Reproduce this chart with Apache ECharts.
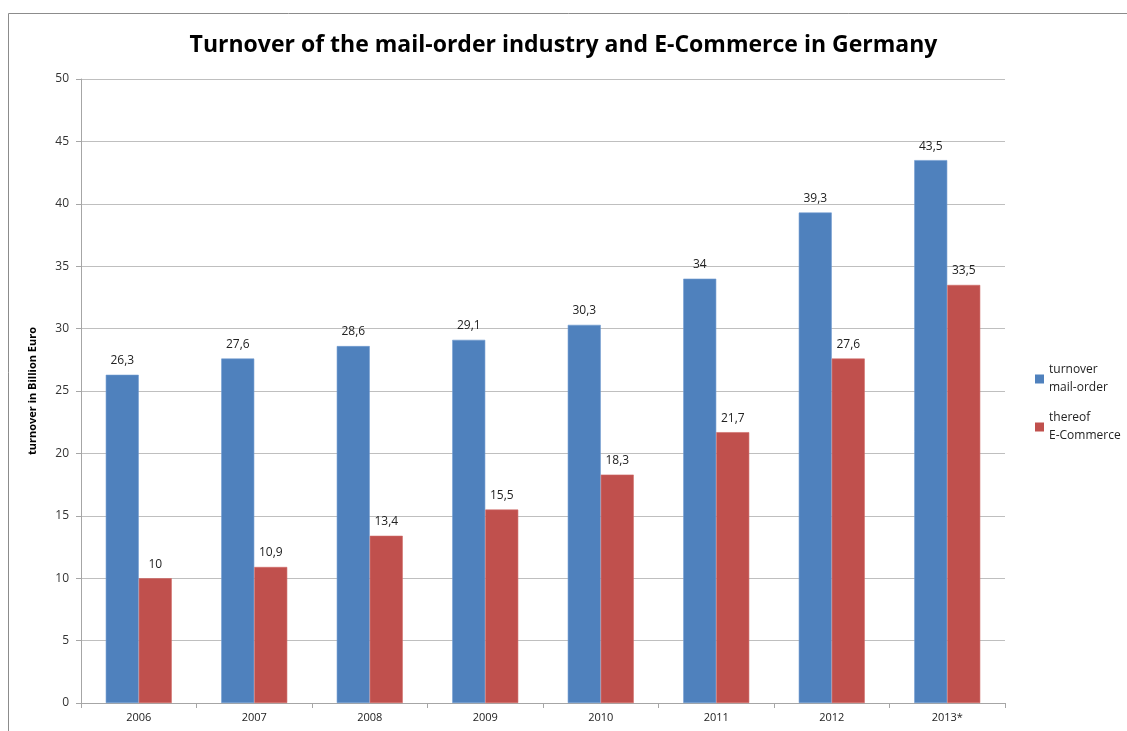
<!DOCTYPE html>
<html>
<head>
<meta charset="utf-8">
<script src="https://cdn.jsdelivr.net/npm/echarts@6/dist/echarts.min.js"></script>
<style>
html,body{margin:0;padding:0;background:#fff;}
#main{width:1127px;height:731px;}
</style>
</head>
<body>
<div id="main"></div>
<script>
// 年份（类目）
var years = ['2006', '2007', '2008', '2009', '2010', '2011', '2012', '2013*'];
// 邮购总营业额
var mailOrder = [26.3, 27.6, 28.6, 29.1, 30.3, 34, 39.3, 43.5];
// 其中电子商务
var eCommerce = [10, 10.9, 13.4, 15.5, 18.3, 21.7, 27.6, 33.5];

var seriesNames = ['turnover\nmail-order', 'thereof\nE-Commerce'];

function commaLabel(p) {
    return String(p.value).replace('.', ',');
}

var myChart = echarts.init(document.getElementById('main'));

var option = {
    backgroundColor: '#fff',
    animation: false,
    textStyle: {fontFamily: 'Open Sans'},
    graphic: [{
        type: 'rect',
        shape: {x: 8.5, y: 13.5, width: 1130, height: 730},
        style: {fill: 'none', stroke: '#8c8c8c', lineWidth: 1}
    }],
    title: {
        text: 'Turnover of the mail-order industry and E-Commerce in Germany',
        left: 'center',
        top: 29,
        textStyle: {fontSize: 23, fontWeight: 'bold', color: '#000', fontFamily: 'Open Sans'}
    },
    legend: {
        orient: 'vertical',
        left: 1030,
        top: 356,
        itemWidth: 9,
        itemHeight: 9,
        itemGap: 12,
        icon: 'rect',
        itemStyle: {borderWidth: 0},
        textStyle: {fontSize: 12, color: '#222', lineHeight: 18},
        data: seriesNames
    },
    grid: {left: 81, right: 122, top: 79, bottom: 28},
    xAxis: {
        type: 'category',
        data: years,
        axisLine: {lineStyle: {color: '#a6a6a6'}},
        axisTick: {show: true, length: 5, lineStyle: {color: '#a6a6a6'}},
        axisLabel: {fontSize: 11, color: '#222', margin: 9}
    },
    yAxis: {
        type: 'value',
        min: 0,
        max: 50,
        interval: 5,
        name: 'turnover in Billion Euro',
        nameLocation: 'middle',
        nameGap: 43,
        nameTextStyle: {fontSize: 11, fontWeight: 'bold', color: '#000'},
        axisLine: {show: true, lineStyle: {color: '#a6a6a6'}},
        axisTick: {show: true, length: 5, lineStyle: {color: '#a6a6a6'}},
        axisLabel: {fontSize: 12, color: '#333', margin: 12},
        splitLine: {lineStyle: {color: '#bfbfbf'}}
    },
    series: [{
        name: seriesNames[0],
        type: 'bar',
        data: mailOrder,
        barWidth: 33,
        barGap: '0%',
        itemStyle: {color: '#4f81bd', borderColor: '#6f9ad0', borderWidth: 0.6},
        label: {show: true, position: 'top', distance: 8, fontSize: 12, color: '#222', formatter: commaLabel}
    }, {
        name: seriesNames[1],
        type: 'bar',
        data: eCommerce,
        barWidth: 33,
        barGap: '0%',
        itemStyle: {color: '#c0504d', borderColor: '#d06a67', borderWidth: 0.6},
        label: {show: true, position: 'top', distance: 8, fontSize: 12, color: '#222', formatter: commaLabel}
    }]
};

myChart.setOption(option);
</script>
</body>
</html>
